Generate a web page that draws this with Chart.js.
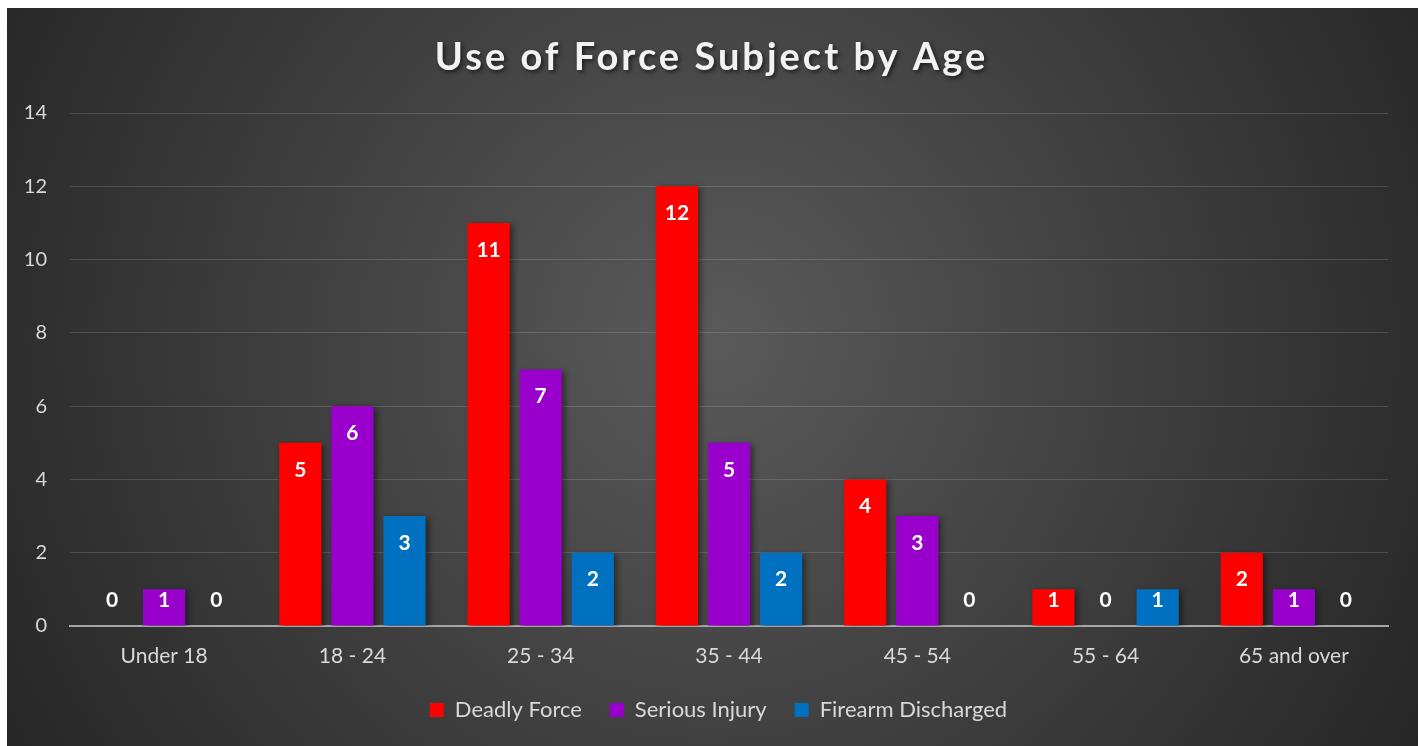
<!DOCTYPE html>
<html>
<head>
<meta charset="utf-8">
<script src="https://cdn.jsdelivr.net/npm/chart.js@4.4.1/dist/chart.umd.min.js"></script>
<style>
  html, body { margin: 0; padding: 0; background: #fff; }
  #wrap { position: absolute; left: 7px; top: 8px; width: 1411px; height: 738px; }
</style>
</head>
<body>
<div id="wrap"><canvas id="ageChart"></canvas></div>
<script>
const chartTitle = 'Use of Force Subject by Age';
const categories = ['Under 18', '18 - 24', '25 - 34', '35 - 44', '45 - 54', '55 - 64', '65 and over'];
const seriesNames = ['Deadly Force', 'Serious Injury', 'Firearm Discharged'];
const deadlyForce = [0, 5, 11, 12, 4, 1, 2];
const seriesInjury = [1, 6, 7, 5, 3, 0, 1];
const firearmDischarged = [0, 3, 2, 2, 0, 1, 0];
const seriesColors = ['#ff0000', '#9900cc', '#0070c0'];
const yTicks = [0, 2, 4, 6, 8, 10, 12, 14];

const textColor = '#d9d9d9';
const fontFamily = 'Lato, Carlito, "Open Sans", sans-serif';

// Hintergrund mit radialem Verlauf
const backgroundPlugin = {
  id: 'bg',
  beforeDraw(chart) {
    const { ctx, width, height } = chart;
    const g = ctx.createRadialGradient(width / 2, height * 0.45, 0, width / 2, height * 0.45, width * 0.58);
    g.addColorStop(0, '#5a5a5a');
    g.addColorStop(1, '#262626');
    ctx.save();
    ctx.fillStyle = g;
    ctx.fillRect(0, 0, width, height);
    ctx.restore();
  },
  // Legende etwas nach rechts, wie im Original
  afterLayout(chart) {
    chart.legend.left += 21;
    chart.legend.right += 21;
  }
};

// leichter Schatten unter den Balken
const shadowPlugin = {
  id: 'barShadow',
  beforeDatasetsDraw(chart) {
    const ctx = chart.ctx;
    ctx.save();
    ctx.shadowColor = 'rgba(0,0,0,0.45)';
    ctx.shadowBlur = 6;
    ctx.shadowOffsetX = 3;
    ctx.shadowOffsetY = 2;
  },
  afterDatasetsDraw(chart) {
    chart.ctx.restore();
  }
};

// Titel mit Sperrung und Schatten, Werte an den Balken
const labelPlugin = {
  id: 'labels',
  afterDraw(chart) {
    const ctx = chart.ctx;
    const base = chart.scales.y.getPixelForValue(0);
    ctx.save();
    ctx.fillStyle = '#ffffff';
    ctx.font = 'bold 21px ' + fontFamily;
    ctx.textAlign = 'center';
    ctx.textBaseline = 'middle';
    chart.data.datasets.forEach((ds, i) => {
      chart.getDatasetMeta(i).data.forEach((bar, j) => {
        const y = Math.min(bar.y + 27, base - 26);
        ctx.fillText(String(ds.data[j]), bar.x, y);
      });
    });

    ctx.shadowColor = 'rgba(0,0,0,0.6)';
    ctx.shadowBlur = 4;
    ctx.shadowOffsetX = 2;
    ctx.shadowOffsetY = 2;
    ctx.fillStyle = '#f2f2f2';
    ctx.font = 'bold 38px ' + fontFamily;
    ctx.letterSpacing = '3px';
    ctx.fillText(chartTitle, chart.width / 2 - 1, 50);
    ctx.restore();
  }
};

const datasets = [deadlyForce, seriesInjury, firearmDischarged].map((vals, i) => ({
  label: seriesNames[i],
  data: vals,
  backgroundColor: seriesColors[i],
  borderWidth: 0,
  barPercentage: 0.81,
  categoryPercentage: 0.83
}));

new Chart(document.getElementById('ageChart'), {
  type: 'bar',
  data: { labels: categories, datasets },
  plugins: [backgroundPlugin, shadowPlugin, labelPlugin],
  options: {
    responsive: true,
    maintainAspectRatio: false,
    animation: false,
    layout: { padding: { top: 105, right: 30, bottom: 15, left: 0 } },
    plugins: {
      title: { display: false },
      tooltip: { enabled: false },
      legend: {
        position: 'bottom',
        labels: {
          color: textColor,
          font: { family: fontFamily, size: 22 },
          boxWidth: 14,
          boxHeight: 14,
          padding: 28
        }
      }
    },
    scales: {
      x: {
        afterFit(scale) { scale.height = 45; },
        grid: { display: false, drawTicks: false },
        border: { color: '#a6a6a6', width: 2 },
        ticks: { color: textColor, font: { family: fontFamily, size: 21 }, padding: 18 }
      },
      y: {
        min: 0,
        max: 14,
        afterFit(scale) { scale.width = 63; },
        afterBuildTicks(scale) { scale.ticks = yTicks.map(v => ({ value: v })); },
        grid: { color: 'rgba(255,255,255,0.14)', lineWidth: 1, drawTicks: false },
        border: { display: false },
        ticks: { color: textColor, font: { family: fontFamily, size: 20 }, padding: 23 }
      }
    }
  }
});
</script>
</body>
</html>
